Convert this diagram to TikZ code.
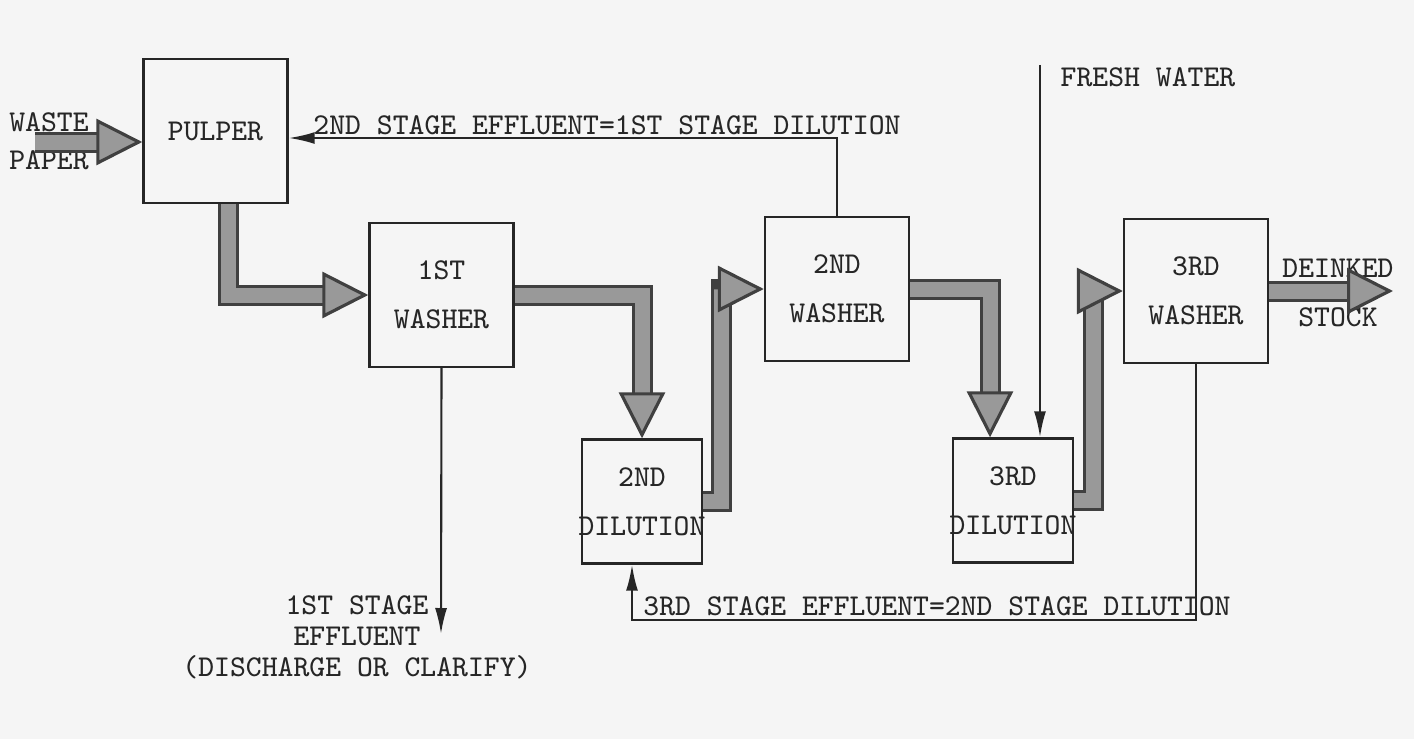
\documentclass[tikz,border=0pt]{standalone}
\usepackage{xcolor,tikz}
\usetikzlibrary{arrows.meta,positioning}
\tikzset{unit/.style={draw=black!85,line width=0.7pt,minimum width=14.4mm,minimum height=14.4mm,
 align=center,inner sep=0pt,font=\fontsize{8.6}{14}\selectfont\ttfamily,text=black!85},
 dil/.style={unit,minimum width=12mm,minimum height=12.4mm},
 flow/.style={line width=1.5mm,draw=black!40,line join=miter,
  -{Triangle[length=4.6mm,width=4.6mm,line width=0.9pt,color=black!75,fill=black!40]},
  preaction={draw=black!75,line width=2.1mm,arrows=-,shorten >=3mm}},
 thin/.style={draw=black!85,line width=0.6pt,-{Latex[length=2.6mm,width=1.2mm]}},
 note/.style={align=center,inner sep=0pt,text=black!85,font=\fontsize{8.6}{8.8}\selectfont\ttfamily}}

\begin{document}
\begin{tikzpicture}
\path[use as bounding box,fill=black!4] (0,0) rectangle (14.14,-7.39);
% process units
\node[unit] (pulper) at (2.155,-1.31) {PULPER};
\node[unit] (w1) at (4.415,-2.95) {1ST\\WASHER};
\node[dil] (d2) at (6.42,-5.015) {2ND\\\makebox[0pt]{DILUTION}};
\node[unit] (w2) at (8.37,-2.89) {2ND\\WASHER};
\node[dil] (d3) at (10.13,-5.005) {3RD\\\makebox[0pt]{DILUTION}};
\node[unit] (w3) at (11.96,-2.91) {3RD\\WASHER};
% labels
\node[note,font=\fontsize{8.6}{10.8}\selectfont\ttfamily] (waste) at (0.49,-1.41) {WASTE\\PAPER};
\node[note,font=\fontsize{8.6}{14}\selectfont\ttfamily] (stock) at (13.38,-2.93) {DEINKED\\STOCK};
\node[note] (e2) at (6.07,-1.25) {2ND STAGE EFFLUENT=1ST STAGE DILUTION};
\node[note] (e3) at (9.37,-6.06) {3RD STAGE EFFLUENT=2ND STAGE DILUTION};
\node[note] (e1) at (3.57,-6.37) {1ST STAGE\\EFFLUENT\\(DISCHARGE OR CLARIFY)};
\node[note] (fwl) at (11.48,-0.77) {FRESH WATER};
\coordinate (wp) at (0.35,-1.42);
\coordinate (out) at (13.93,-2.91);
\coordinate (fw) at (10.40,-0.65);
\coordinate (eff1) at (4.41,-6.34);
\coordinate (ret) at (6.32,-6.20);
% stock flow
\draw[flow] (wp) -- (wp -| pulper.west);
\draw[flow] ([xshift=1.25mm]pulper.south) |- (w1.west);
\draw[flow] (w1.east) -| (d2.north);
\draw[flow] (d2.east) -- ++(1.8mm,0) |- (w2.west);
\draw[flow] (w2.east) -| ([xshift=-2.3mm]d3.north);
\draw[flow] (d3.east) -- ++(1.9mm,0) |- (w3.west);
\draw[flow] (w3.east) -- (out);
% water
\draw[thin] (w2.north) |- ([yshift=-0.7mm]pulper.east);
\draw[thin] (w1.south) -- (eff1);
\draw[thin] (w3.south) |- (ret) -- (ret |- d2.south);
\draw[thin] (fw) -- (fw |- d3.north);
\end{tikzpicture}
\end{document}
